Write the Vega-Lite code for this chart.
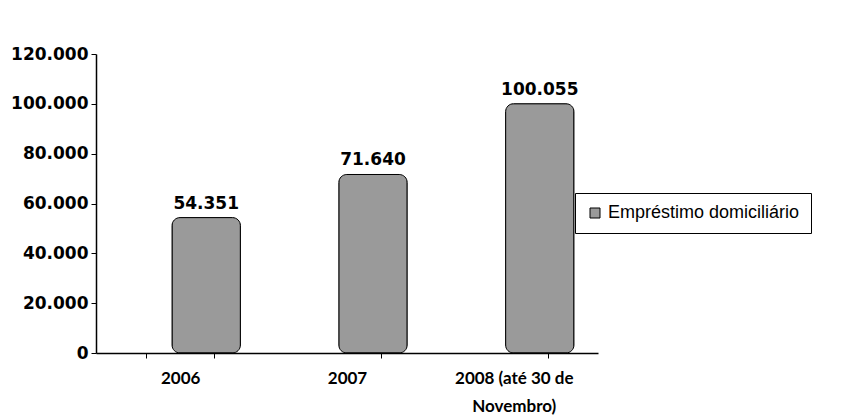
{
  "$schema": "https://vega.github.io/schema/vega-lite/v6.json",
  "width": 502,
  "height": 299,
  "autosize": {"type": "none"},
  "padding": {"left": 96, "top": 54, "right": 244, "bottom": 66},
  "background": "white",
  "config": {"view": {"stroke": null}},
  "data": {
    "values": [
      {"ano": "2006", "valor": 54351, "serie": "Empréstimo domiciliário"},
      {"ano": "2007", "valor": 71640, "serie": "Empréstimo domiciliário"},
      {"ano": "2008 (até 30 de Novembro)", "valor": 100055, "serie": "Empréstimo domiciliário"}
    ]
  },
  "transform": [
    {"calculate": "replace(format(datum.valor, ','), ',', '.')", "as": "rotulo"}
  ],
  "encoding": {
    "x": {
      "field": "ano", "type": "nominal", "sort": null, "title": null,
      "scale": {"paddingInner": 0.59, "paddingOuter": 0.3},
      "axis": {
        "labelAngle": 0, "labelFont": "Lato", "labelFontWeight": "bold", "labelFontSize": 17,
        "labelColor": "black", "domainColor": "black", "domainWidth": 1.5, "tickColor": "black",
        "tickBand": "extent", "tickSize": 5, "labelPadding": 12, "labelLimit": 250,
        "labelExpr": "datum.value == '2008 (até 30 de Novembro)' ? ['2008 (até 30 de', 'Novembro)'] : datum.value",
        "labelLineHeight": 28
      }
    },
    "y": {
      "field": "valor", "type": "quantitative", "title": null,
      "scale": {"domain": [0, 120000]},
      "axis": {
        "values": [0, 20000, 40000, 60000, 80000, 100000, 120000],
        "labelExpr": "replace(format(datum.value, ','), ',', '.')",
        "labelFont": "DejaVu Sans", "labelFontWeight": "bold", "labelFontSize": 17,
        "labelColor": "black", "domainColor": "black", "domainWidth": 1.5, "tickColor": "black",
        "tickSize": 5, "labelPadding": 3, "grid": false
      }
    }
  },
  "layer": [
    {
      "mark": {"type": "bar", "stroke": "black", "strokeWidth": 1, "cornerRadius": 8, "xOffset": 26},
      "encoding": {
        "color": {
          "field": "serie", "type": "nominal", "title": null,
          "scale": {"range": ["#9a9a9a"]},
          "legend": {
            "orient": "none", "legendX": 479, "legendY": 139,
            "strokeColor": "black", "fillColor": "white", "padding": 11,
            "symbolType": "square", "symbolSize": 100, "symbolStrokeColor": "black", "symbolStrokeWidth": 1,
            "labelFont": "Liberation Sans", "labelFontSize": 18, "labelColor": "black", "labelLimit": 300
          }
        }
      }
    },
    {
      "mark": {"type": "text", "dy": -14, "xOffset": 26, "font": "DejaVu Sans", "fontWeight": "bold", "fontSize": 17, "color": "black"},
      "encoding": {
        "text": {"field": "rotulo", "type": "nominal"}
      }
    }
  ]
}
